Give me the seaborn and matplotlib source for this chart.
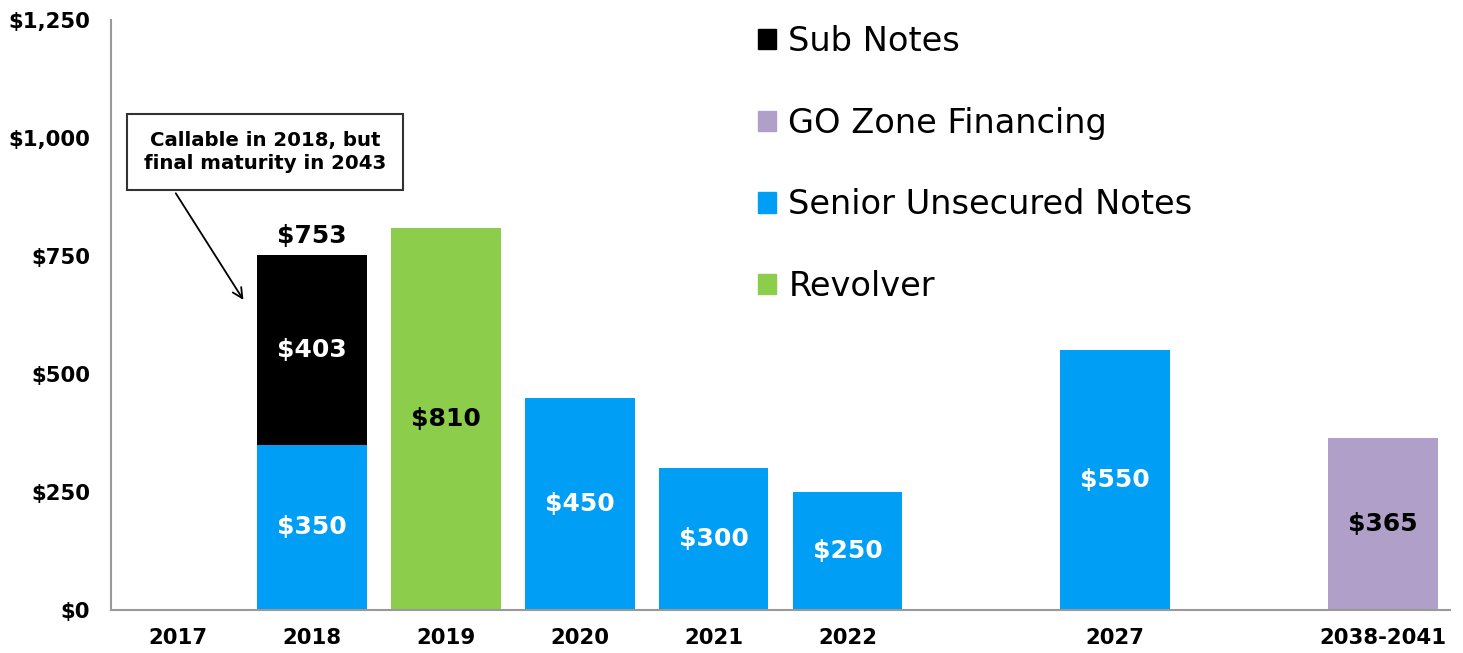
import pandas as pd
import matplotlib
matplotlib.use("Agg")
import matplotlib.pyplot as plt
import seaborn as sns
from matplotlib.patches import Patch

# maturity slots (two unlabeled gaps keep the spacing of the original)
categories = ["2017", "2018", "2019", "2020", "2021", "2022", "gap_a", "2027", "gap_b", "2038-2041"]
tick_labels = ["2017", "2018", "2019", "2020", "2021", "2022", "", "2027", "", "2038-2041"]

senior = [0, 350, 0, 450, 300, 250, 0, 550, 0, 0]
revolver = [0, 0, 810, 0, 0, 0, 0, 0, 0, 0]
go_zone = [0, 0, 0, 0, 0, 0, 0, 0, 0, 365]
sub_notes = [0, 403, 0, 0, 0, 0, 0, 0, 0, 0]

colors = {
    "Sub Notes": "#000000",
    "GO Zone Financing": "#b09fc8",
    "Senior Unsecured Notes": "#009ef5",
    "Revolver": "#8dcd4c",
}

df = pd.DataFrame({"cat": categories, "senior": senior, "revolver": revolver,
                   "go_zone": go_zone, "sub_notes": sub_notes})
# cumulative heights for stacking (draw tallest first)
df["l1"] = df["senior"]
df["l2"] = df["l1"] + df["revolver"]
df["l3"] = df["l2"] + df["go_zone"]
df["l4"] = df["l3"] + df["sub_notes"]

sns.set_style("white")
plt.rcParams["font.family"] = ["DejaVu Sans"]
plt.rcParams["text.color"] = "black"
plt.rcParams["xtick.color"] = "black"
plt.rcParams["ytick.color"] = "black"

fig = plt.figure(figsize=(14.63, 6.53), dpi=100)
ax = fig.add_axes([111 / 1463, 1 - 610 / 653, 1339 / 1463, 590 / 653])

layers = [("l4", "sub_notes", "Sub Notes"),
          ("l3", "go_zone", "GO Zone Financing"),
          ("l2", "revolver", "Revolver"),
          ("l1", "senior", "Senior Unsecured Notes")]
for col, part, name in layers:
    d = df[df[part] > 0]
    sns.barplot(data=d, x="cat", y=col, order=categories, color=colors[name],
                saturation=1, width=0.82, errorbar=None, linewidth=0, ax=ax)

# segment labels
label_color = {"senior": "white", "revolver": "black", "go_zone": "black", "sub_notes": "white"}
for i, row in df.iterrows():
    base = 0
    for part in ["senior", "revolver", "go_zone", "sub_notes"]:
        v = row[part]
        if v > 0:
            ax.text(i, base + v / 2, f"${v:,}", ha="center", va="center",
                    fontsize=18, fontweight="bold", color=label_color[part])
            base += v
    if row["sub_notes"] > 0:
        ax.text(i, base + 15, f"${base:,}", ha="center", va="bottom",
                fontsize=18, fontweight="bold", color="black")

ax.annotate("Callable in 2018, but\nfinal maturity in 2043",
            xy=(0.5, 652), xytext=(0.65, 970), textcoords="data",
            ha="center", va="center", fontsize=14.2, fontweight="bold",
            linespacing=1.3,
            bbox=dict(boxstyle="square,pad=0.85", fc="white", ec="#333333", lw=1.5),
            arrowprops=dict(arrowstyle="->", color="black", lw=1.3,
                            relpos=(0.08, 0), mutation_scale=18))

ax.set_xlim(-0.5, 9.5)
ax.set_ylim(0, 1250)
ax.set_yticks([0, 250, 500, 750, 1000, 1250])
ax.set_yticklabels(["$0", "$250", "$500", "$750", "$1,000", "$1,250"])
ax.set_xticks(range(len(categories)))
ax.set_xticklabels(tick_labels)
ax.set_xlabel("")
ax.set_ylabel("")
ax.tick_params(axis="both", length=0, labelsize=15.3)
ax.tick_params(axis="y", pad=15)
ax.tick_params(axis="x", pad=13)
for lab in ax.get_xticklabels() + ax.get_yticklabels():
    lab.set_fontweight("bold")

for s in ["top", "right"]:
    ax.spines[s].set_visible(False)
for s in ["left", "bottom"]:
    ax.spines[s].set_color("#999999")
    ax.spines[s].set_linewidth(1.5)

handles = [Patch(color=colors[n], label=n) for n in
           ["Sub Notes", "GO Zone Financing", "Senior Unsecured Notes", "Revolver"]]
fig.legend(handles=handles, loc="upper left", bbox_to_anchor=(758 / 1463, 1 - 25 / 653),
           frameon=False, fontsize=24.2, handlelength=0.55, handleheight=0.55,
           handletextpad=0.35, labelspacing=1.45, borderpad=0, borderaxespad=0)

fig.savefig("out.png", dpi=100)
